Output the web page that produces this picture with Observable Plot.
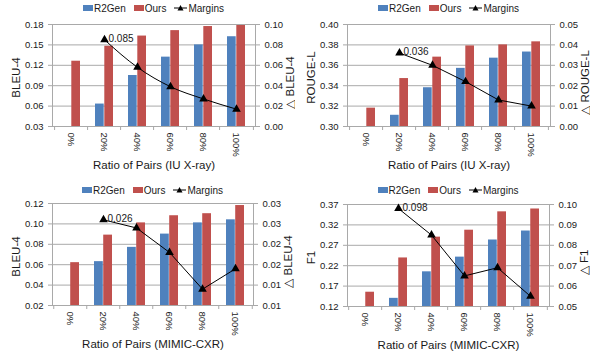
<!DOCTYPE html>
<html><head><meta charset="utf-8">
<script src="https://cdn.jsdelivr.net/npm/d3@7"></script>
<script src="https://cdn.jsdelivr.net/npm/@observablehq/plot@0.6"></script>
<style>
html,body{margin:0;padding:0;background:#fff;overflow:hidden;}
body{width:590px;height:354px;position:relative;font-family:"Liberation Sans",Arial,sans-serif;color:#1a1a1a;}
.panel{position:absolute;width:295px;height:177px;}
.legend{display:flex;justify-content:center;align-items:center;font-size:10px;box-sizing:border-box;white-space:nowrap;}
.item{display:flex;align-items:center;margin:0 4px;}
.sw{display:inline-block;width:10px;height:6px;margin-right:1px;}
svg{display:block;}
</style></head><body>
<script>
// ---------- data ----------
const categories = ["0%", "20%", "40%", "60%", "80%", "100%"];
const seriesNames = ["R2Gen", "Ours", "Margins"];

const iuBleuR2Gen   = [null, 0.063, 0.105, 0.132, 0.150, 0.162];
const iuBleuOurs    = [0.126, 0.148, 0.163, 0.171, 0.177, 0.179];
const iuBleuMargins = [null, 0.085, 0.058, 0.039, 0.027, 0.017];

const iuRougeR2Gen   = [null, 0.311, 0.338, 0.357, 0.367, 0.373];
const iuRougeOurs    = [0.318, 0.347, 0.368, 0.379, 0.380, 0.383];
const iuRougeMargins = [null, 0.036, 0.030, 0.022, 0.013, 0.010];

const mimicBleuR2Gen   = [null, 0.063, 0.077, 0.090, 0.101, 0.104];
const mimicBleuOurs    = [0.062, 0.089, 0.101, 0.108, 0.110, 0.118];
const mimicBleuMargins = [null, 0.026, 0.024, 0.018, 0.009, 0.014];

const mimicF1R2Gen   = [null, 0.140, 0.205, 0.241, 0.283, 0.305];
const mimicF1Ours    = [0.155, 0.239, 0.290, 0.307, 0.352, 0.359];
const mimicF1Margins = [null, 0.098, 0.085, 0.065, 0.069, 0.055];

const marginLabels = ["0.085", "0.036", "0.026", "0.098"];

const iuBleuLeftTicks = [0.03, 0.06, 0.09, 0.12, 0.15, 0.18];
const iuBleuLeftLabels = ["0.03", "0.06", "0.09", "0.12", "0.15", "0.18"];
const iuBleuRightTicks = [0, 0.02, 0.04, 0.06, 0.08, 0.10];
const iuBleuRightLabels = ["0.00", "0.02", "0.04", "0.06", "0.08", "0.10"];

const iuRougeLeftTicks = [0.30, 0.32, 0.34, 0.36, 0.38, 0.40];
const iuRougeLeftLabels = ["0.30", "0.32", "0.34", "0.36", "0.38", "0.40"];
const iuRougeRightTicks = [0, 0.01, 0.02, 0.03, 0.04, 0.05];
const iuRougeRightLabels = ["0.00", "0.01", "0.02", "0.03", "0.04", "0.05"];

const mimicBleuLeftTicks = [0.02, 0.04, 0.06, 0.08, 0.10, 0.12];
const mimicBleuLeftLabels = ["0.02", "0.04", "0.06", "0.08", "0.10", "0.12"];
const mimicBleuRightTicks = [0.005, 0.010, 0.015, 0.020, 0.025, 0.030];
const mimicBleuRightLabels = ["0.01", "0.01", "0.02", "0.02", "0.03", "0.03"];

const mimicF1LeftTicks = [0.12, 0.17, 0.22, 0.27, 0.32, 0.37];
const mimicF1LeftLabels = ["0.12", "0.17", "0.22", "0.27", "0.32", "0.37"];
const mimicF1RightTicks = [0.05, 0.06, 0.07, 0.08, 0.09, 0.10];
const mimicF1RightLabels = ["0.05", "0.06", "0.07", "0.08", "0.09", "0.10"];

const yTitles = ["BLEU-4", "ROUGE-L", "BLEU-4", "F1"];
const rightTitles = ["\u25B3 BLEU-4", "\u25B3 ROUGE-L", "\u25B3 BLEU-4", "\u25B3 F1"];
const xTitles = ["Ratio of Pairs (IU X-ray)", "Ratio of Pairs (IU X-ray)", "Ratio of Pairs (MIMIC-CXR)", "Ratio of Pairs (MIMIC-CXR)"];

// ---------- style ----------
const BLUE = "#4F81BD", RED = "#C0504D", GRID = "#a9a9a9", TEXT = "#1a1a1a";
const FONT = "'Liberation Sans', Arial, sans-serif";

const panels = [
  {left: 0, top: 0, legendH: 16, svgH: 161, mt: 8, mb: 51, ml: 52, mr: 40,
   r2: iuBleuR2Gen, ours: iuBleuOurs, mg: iuBleuMargins, lt: iuBleuLeftTicks, ll: iuBleuLeftLabels,
   rt: iuBleuRightTicks, rl: iuBleuRightLabels, curve: "monotone-x"},
  {left: 295, top: 0, legendH: 16, svgH: 161, mt: 8, mb: 51, ml: 52, mr: 40,
   r2: iuRougeR2Gen, ours: iuRougeOurs, mg: iuRougeMargins, lt: iuRougeLeftTicks, ll: iuRougeLeftLabels,
   rt: iuRougeRightTicks, rl: iuRougeRightLabels, curve: "linear"},
  {left: 0, top: 177, legendH: 21, svgH: 156, mt: 5, mb: 49, ml: 52, mr: 42,
   r2: mimicBleuR2Gen, ours: mimicBleuOurs, mg: mimicBleuMargins, lt: mimicBleuLeftTicks, ll: mimicBleuLeftLabels,
   rt: mimicBleuRightTicks, rl: mimicBleuRightLabels, curve: "linear"},
  {left: 295, top: 177, legendH: 21, svgH: 156, mt: 6, mb: 48, ml: 52, mr: 41,
   r2: mimicF1R2Gen, ours: mimicF1Ours, mg: mimicF1Margins, lt: mimicF1LeftTicks, ll: mimicF1LeftLabels,
   rt: mimicF1RightTicks, rl: mimicF1RightLabels, curve: "linear"}
];

function legendHTML(p) {
  const marginSym = `<svg width="13" height="8" style="margin-right:1px"><line x1="0" y1="4" x2="13" y2="4" stroke="black" stroke-width="1"/><path d="M6.5,1 L9.5,6.5 L3.5,6.5 Z" fill="black"/></svg>`;
  return `<div class="legend" style="height:${p.legendH}px;padding-left:${p.ml}px;padding-right:${p.mr}px;padding-top:${p.legendH - 16}px">
    <span class="item"><span class="sw" style="background:${BLUE}"></span>${seriesNames[0]}</span>
    <span class="item"><span class="sw" style="background:${RED}"></span>${seriesNames[1]}</span>
    <span class="item">${marginSym}${seriesNames[2]}</span></div>`;
}

panels.forEach((p, k) => {
  const div = document.createElement("div");
  div.className = "panel";
  div.style.left = p.left + "px";
  div.style.top = p.top + "px";
  div.innerHTML = legendHTML(p);
  document.body.appendChild(div);

  const L0 = p.lt[0], L1 = p.lt[p.lt.length - 1];
  const R0 = p.rt[0], R1 = p.rt[p.rt.length - 1];
  const toLeft = v => L0 + (v - R0) / (R1 - R0) * (L1 - L0);

  const W = 295 - p.ml - p.mr;
  const step = W / categories.length;
  const pad = 0.45;
  const half = step * (1 - pad) / 2;

  const r2Data = categories.map((c, i) => ({cat: c, v: p.r2[i], base: L0})).filter(d => d.v != null);
  const ourData = categories.map((c, i) => ({cat: c, v: p.ours[i], base: L0})).filter(d => d.v != null);
  const mgData = categories.map((c, i) => ({cat: c, v: p.mg[i] == null ? null : toLeft(p.mg[i])})).filter(d => d.v != null);

  const rightMapped = p.rt.map(toLeft);
  const rightLabelMap = new Map(rightMapped.map((v, i) => [v, p.rl[i]]));
  const leftLabelMap = new Map(p.lt.map((v, i) => [v, p.ll[i]]));

  const chart = Plot.plot({
    width: 295,
    height: p.svgH,
    marginLeft: p.ml, marginRight: p.mr, marginTop: p.mt, marginBottom: p.mb,
    style: {fontFamily: FONT, color: TEXT, background: "white", overflow: "visible"},
    x: {type: "band", domain: categories, paddingInner: pad, paddingOuter: pad / 2, align: 0.5, axis: null},
    y: {domain: [L0, L1], axis: null},
    marks: [
      Plot.gridY(p.lt, {stroke: GRID, strokeOpacity: 1}),
      Plot.barY(r2Data, {x: "cat", y1: "base", y2: "v", fill: BLUE, insetRight: half}),
      Plot.barY(ourData, {x: "cat", y1: "base", y2: "v", fill: RED, insetLeft: half}),
      Plot.frame({stroke: GRID}),
      Plot.ruleX(categories, {x: d => d, y1: L0, y2: L0, dx: -step / 2, insetBottom: -4, stroke: GRID}),
      Plot.ruleX(categories.slice(-1), {x: d => d, y1: L0, y2: L0, dx: step / 2, insetBottom: -4, stroke: GRID}),
      Plot.axisY(p.lt, {anchor: "left", tickSize: 4, tickPadding: 5, fontSize: 9.5, stroke: GRID, label: null,
        tickFormat: d => leftLabelMap.get(d)}),
      Plot.axisY(rightMapped, {anchor: "right", tickSize: 4, tickPadding: 5, fontSize: 9.5, stroke: GRID, label: null,
        tickFormat: d => rightLabelMap.get(d)}),
      Plot.axisX({anchor: "bottom", tickSize: 0, tickPadding: 6, tickRotate: 90, fontSize: 9.5, label: null}),
      Plot.line(mgData, {x: "cat", y: "v", stroke: "black", strokeWidth: 1, curve: p.curve}),
      Plot.dot(mgData, {x: "cat", y: "v", symbol: "triangle", fill: "black", r: 3.2}),
      Plot.text(mgData.slice(0, 1), {x: "cat", y: "v", text: () => marginLabels[k], textAnchor: "start", lineAnchor: "middle", dx: 4, dy: -1, fontSize: 10, fill: TEXT}),
      Plot.text([yTitles[k]], {frameAnchor: "left", dx: -36, dy: 2, rotate: -90, textAnchor: "middle", lineAnchor: "middle", fontSize: 11.5, fill: TEXT}),
      Plot.text([rightTitles[k]], {frameAnchor: "right", dx: 35, dy: 7, rotate: -90, textAnchor: "middle", lineAnchor: "middle", fontSize: 11.5, fill: TEXT}),
      Plot.text([xTitles[k]], {frameAnchor: "bottom", dy: 39, textAnchor: "middle", lineAnchor: "middle", fontSize: 11.5, fill: TEXT})
    ]
  });
  div.appendChild(chart);
});
</script>
</body></html>
